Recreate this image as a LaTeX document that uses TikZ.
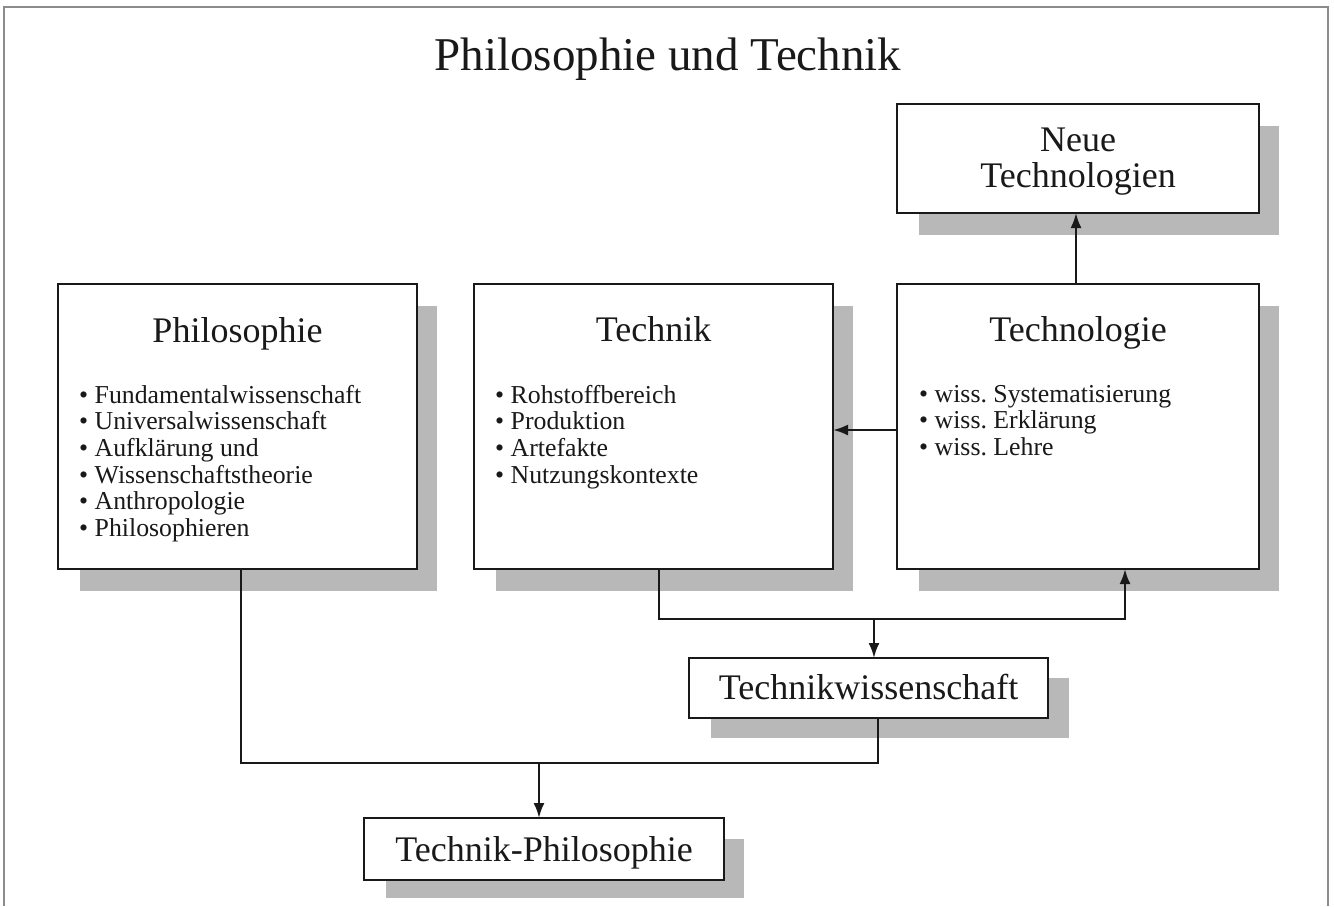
\documentclass[tikz,border=0pt]{standalone}
\usepackage{fontspec}
\setmainfont{Liberation Serif}
\usetikzlibrary{arrows.meta,calc}
\definecolor{shadowgray}{RGB}{184,184,184}
\definecolor{framegray}{RGB}{140,140,140}
\definecolor{ink}{RGB}{25,25,25}
\frenchspacing
\tikzset{
  box/.style={draw=ink, line width=2.6pt, fill=white, inner sep=0pt, outer sep=0pt, anchor=north west},
  shade/.style={fill=shadowgray},
  conn/.style={draw=ink, line width=2.3pt},
  arr/.style={conn, -{Latex[length=15pt,width=11pt]}},
  ttl/.style={inner sep=0pt, anchor=base, font=\fontsize{47}{50}\selectfont, text=ink},
  head/.style={inner sep=0pt, anchor=base, font=\fontsize{36}{36}\selectfont, text=ink},
  items/.style={inner sep=0pt, anchor=base west, font=\fontsize{25.8}{26.7}\selectfont, text=ink},
}
\newcommand{\itemlist}[1]{\vtop{\baselineskip=26.7pt\lineskiplimit=-10pt #1}}
\begin{document}
\begin{tikzpicture}[x=1pt,y=-1pt]
\useasboundingbox (0,0) rectangle (1334,906);
\fill[white] (0,0) rectangle (1334,906);
% frame
\draw[framegray, line width=1.6pt] (4,906) -- (4,7) -- (1328,7) -- (1328,906);

% title
\node[ttl] (title) at (668,70) {Philosophie und Technik};

% shadows first
\fill[shade] (919,126) rectangle (1279,235);
\fill[shade] (80,306) rectangle (437,591);
\fill[shade] (496,306) rectangle (853,591);
\fill[shade] (919,306) rectangle (1279,591);
\fill[shade] (711,678) rectangle (1069,738);
\fill[shade] (386,839) rectangle (744,898);

% boxes
\node[box, minimum width=362pt, minimum height=109pt] (neue) at (897,104) {};
\node[box, minimum width=359pt, minimum height=285pt] (phil) at (58,284) {};
\node[box, minimum width=359pt, minimum height=285pt] (tech) at (474,284) {};
\node[box, minimum width=362pt, minimum height=285pt] (tlog) at (897,284) {};
\node[box, minimum width=359pt, minimum height=60pt] (tw) at (689,658) {};
\node[box, minimum width=360pt, minimum height=62pt] (tp) at (364,818) {};

% texts
\node[head] (neuet1) at (1078,151) {Neue};
\node[head] (neuet2) at (1078,187) {Technologien};
\node[head] (philt) at (237.5,342) {Philosophie};
\node[head] (techt) at (653.5,341) {Technik};
\node[head] (tlogt) at (1078,341) {Technologie};
\node[head] (twt) at (868.5,699) {Technikwissenschaft};
\node[head] (tpt) at (544,861) {Technik-Philosophie};

\node[items] (phili) at (79,403) {\itemlist{%
  \hbox{• Fundamentalwissenschaft}
  \hbox{• Universalwissenschaft}
  \hbox{• Aufklärung und}
  \hbox{• Wissenschaftstheorie}
  \hbox{• Anthropologie}
  \hbox{• Philosophieren}}};
\node[items] (techi) at (495,403) {\itemlist{%
  \hbox{• Rohstoffbereich}
  \hbox{• Produktion}
  \hbox{• Artefakte}
  \hbox{• Nutzungskontexte}}};
\node[items] (tlogi) at (919,402) {\itemlist{%
  \hbox{• wiss. Systematisierung}
  \hbox{• wiss. Erklärung}
  \hbox{• wiss. Lehre}}};

% junction coordinates
\coordinate (hA) at (0,430);
\coordinate (vA) at (1076,0);
\coordinate (tA) at (659,619);
\coordinate (tB) at (1125,619);
\coordinate (tC) at (874,619);
\coordinate (pA) at (241,763);
\coordinate (pB) at (878,763);
\coordinate (pC) at (539,763);

% connectors
\draw[arr] (tlog.west |- hA) -- (tech.east |- hA);
\draw[arr] (tlog.north -| vA) -- (neue.south -| vA);
\draw[arr] (tech.south -| tA) -- (tA) -- (tB) -- (tlog.south -| tB);
\draw[arr] (tC) -- (tw.north -| tC);
\draw[conn] (phil.south -| pA) -- (pA) -- (pB) -- (tw.south -| pB);
\draw[arr] (pC) -- (tp.north -| pC);
\end{tikzpicture}
\end{document}
